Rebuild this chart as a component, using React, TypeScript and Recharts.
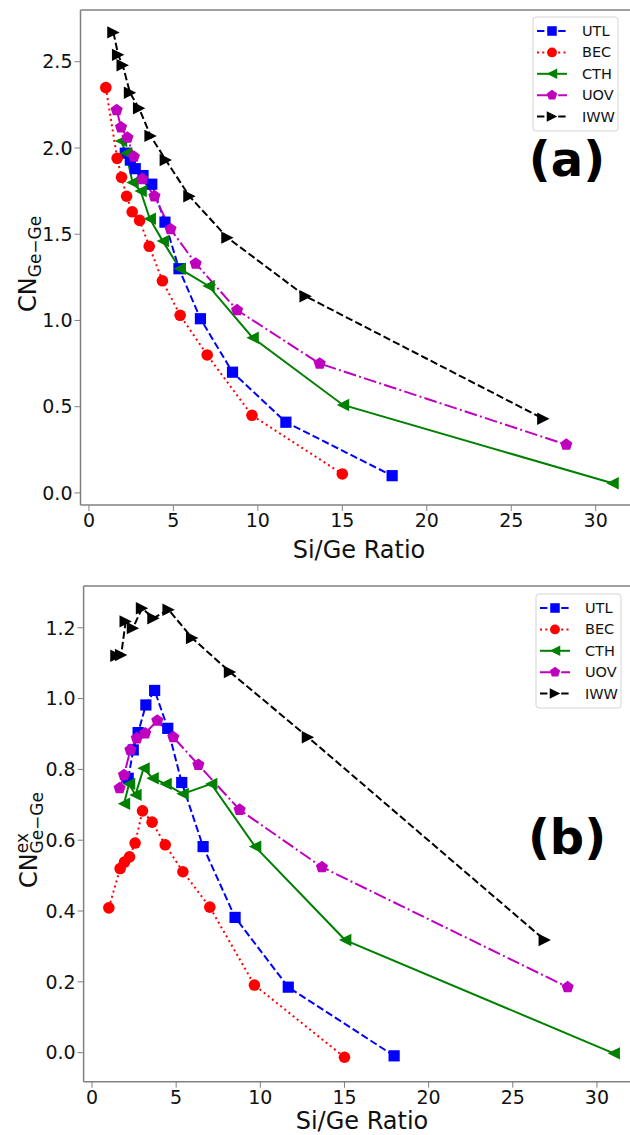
import React from 'react';
import { LineChart, Line, XAxis, YAxis, ReferenceLine } from 'recharts';

// Si/Ge ratio (x) per framework, and the two coordination-number panels
const UTL_X = [2.15, 2.45, 2.74, 3.2, 3.72, 4.5, 5.33, 6.6, 8.5, 11.66, 17.95];
const UTL_CN = [1.97, 1.93, 1.88, 1.84, 1.79, 1.57, 1.3, 1.01, 0.7, 0.41, 0.1];
const UTL_EX = [0.775, 0.855, 0.904, 0.982, 1.023, 0.916, 0.763, 0.582, 0.382, 0.185, -0.009];

const BEC_X = [1.0, 1.67, 1.93, 2.23, 2.56, 3.0, 3.57, 4.35, 5.4, 7.0, 9.65, 15.0];
const BEC_CN = [2.35, 1.94, 1.83, 1.72, 1.63, 1.58, 1.43, 1.23, 1.03, 0.8, 0.45, 0.11];
const BEC_EX = [0.409, 0.52, 0.538, 0.553, 0.592, 0.683, 0.651, 0.587, 0.511, 0.411, 0.191, -0.013];

const CTH_X = [1.9, 2.2, 2.58, 3.06, 3.6, 4.37, 5.38, 7.08, 9.69, 15.04, 31.0];
const CTH_CN = [2.04, 1.97, 1.8, 1.75, 1.59, 1.46, 1.3, 1.2, 0.9, 0.51, 0.056];
const CTH_EX = [0.703, 0.759, 0.728, 0.803, 0.775, 0.759, 0.731, 0.759, 0.582, 0.318, -0.002];

const UOV_X = [1.64, 1.9, 2.28, 2.66, 3.16, 3.88, 4.83, 6.32, 8.77, 13.66, 28.26];
const UOV_CN = [2.22, 2.12, 2.06, 1.95, 1.82, 1.72, 1.53, 1.33, 1.06, 0.75, 0.28];
const UOV_EX = [0.747, 0.784, 0.855, 0.888, 0.902, 0.938, 0.891, 0.813, 0.686, 0.524, 0.185];

const IWW_X = [1.45, 1.73, 2.0, 2.43, 2.97, 3.65, 4.55, 5.95, 8.2, 12.83, 26.9];
const IWW_CN = [2.67, 2.54, 2.48, 2.32, 2.23, 2.07, 1.93, 1.72, 1.48, 1.14, 0.43];
const IWW_EX = [1.121, 1.123, 1.218, 1.199, 1.255, 1.227, 1.251, 1.171, 1.075, 0.891, 0.318];

const X_TICKS = [0, 5, 10, 15, 20, 25, 30];
const CN_TICKS = [0, 0.5, 1.0, 1.5, 2.0, 2.5];
const EX_TICKS = [0, 0.2, 0.4, 0.6, 0.8, 1.0, 1.2];

const X_DOMAIN: [number, number] = [-0.5, 32.6];
const FONT = '"DejaVu Sans", sans-serif';
const AXIS = '#808080';

type Kind = 'square' | 'circle' | 'triLeft' | 'triRight' | 'pentagon';

const SERIES = [
  { name: 'UTL', x: UTL_X, cn: UTL_CN, ex: UTL_EX, color: '#0000ff', dash: '7.4 3.2', kind: 'square' as Kind },
  { name: 'BEC', x: BEC_X, cn: BEC_CN, ex: BEC_EX, color: '#ff0000', dash: '2 3.3', kind: 'circle' as Kind },
  { name: 'CTH', x: CTH_X, cn: CTH_CN, ex: CTH_EX, color: '#008000', dash: undefined, kind: 'triLeft' as Kind },
  { name: 'UOV', x: UOV_X, cn: UOV_CN, ex: UOV_EX, color: '#bf00bf', dash: '12.8 3.2 2 3.2', kind: 'pentagon' as Kind },
  { name: 'IWW', x: IWW_X, cn: IWW_CN, ex: IWW_EX, color: '#000000', dash: '7.4 3.2', kind: 'triRight' as Kind },
];

const Marker = ({ cx, cy, kind, color, size = 1 }: { cx?: number; cy?: number; kind: Kind; color: string; size?: number }) => {
  if (cx == null || cy == null) return null;
  const h = 6.2 * size;
  switch (kind) {
    case 'square':
      return <rect x={cx - 5.6 * size} y={cy - 5.6 * size} width={11.2 * size} height={11.2 * size} fill={color} />;
    case 'circle':
      return <circle cx={cx} cy={cy} r={5.8 * size} fill={color} />;
    case 'triRight':
      return <polygon points={`${cx + h},${cy} ${cx - h},${cy - h} ${cx - h},${cy + h}`} fill={color} />;
    case 'triLeft':
      return <polygon points={`${cx - h},${cy} ${cx + h},${cy - h} ${cx + h},${cy + h}`} fill={color} />;
    case 'pentagon': {
      const r = 6.4 * size;
      const pts = [0, 1, 2, 3, 4]
        .map((k) => {
          const a = (-90 + 72 * k) * (Math.PI / 180);
          return `${cx + r * Math.cos(a)},${cy + r * Math.sin(a)}`;
        })
        .join(' ');
      return <polygon points={pts} fill={color} />;
    }
  }
  return null;
};

interface PanelProps {
  field: 'cn' | 'ex';
  yDomain: [number, number];
  yTicks: number[];
  yWidth: number;
  rightMargin: number;
  plotHeight: number;
}

const Panel = ({ field, yDomain, yTicks, yWidth, rightMargin, plotHeight }: PanelProps) => (
  <LineChart width={660} height={10 + plotHeight + 60} margin={{ top: 10, right: rightMargin, left: 0, bottom: 0 }}>
    <XAxis
      dataKey="x"
      type="number"
      domain={X_DOMAIN}
      allowDataOverflow
      ticks={X_TICKS}
      height={60}
      tickSize={6}
      tickMargin={3}
      axisLine={{ stroke: AXIS, strokeWidth: 1.5 }}
      tickLine={{ stroke: AXIS }}
      tick={{ fill: '#111', fontSize: 19, fontFamily: FONT }}
    />
    <YAxis
      type="number"
      domain={yDomain}
      allowDataOverflow
      ticks={yTicks}
      width={yWidth}
      tickSize={6}
      tickMargin={2}
      tickFormatter={(v: number) => v.toFixed(1)}
      axisLine={{ stroke: AXIS, strokeWidth: 1.5 }}
      tickLine={{ stroke: AXIS }}
      tick={{ fill: '#111', fontSize: 19, fontFamily: FONT }}
    />
    {/* top spine of the frame */}
    <ReferenceLine y={yDomain[1]} stroke={AXIS} strokeWidth={1.5} />
    {SERIES.map((s) => (
      <Line
        key={s.name}
        data={s.x.map((x, i) => ({ x, y: s[field][i] }))}
        dataKey="y"
        type="linear"
        stroke={s.color}
        strokeWidth={2}
        strokeDasharray={s.dash}
        dot={(p: any) => <Marker key={`${s.name}-${p.index}`} cx={p.cx} cy={p.cy} kind={s.kind} color={s.color} />}
        activeDot={false}
        isAnimationActive={false}
      />
    ))}
  </LineChart>
);

const LegendBox = ({ x, y }: { x: number; y: number }) => (
  <g>
    <rect x={x} y={y} width={85} height={114} rx={3} fill="#fff" fillOpacity={0.8} stroke="#d5d5d5" strokeWidth={1} />
    {SERIES.map((s, i) => {
      const cy = y + 14 + i * 21.4;
      return (
        <g key={s.name}>
          <line x1={x + 4} x2={x + 34} y1={cy} y2={cy} stroke={s.color} strokeWidth={2} strokeDasharray={s.dash} />
          <Marker cx={x + 19} cy={cy} kind={s.kind} color={s.color} size={0.85} />
          <text x={x + 49} y={cy + 5} fontSize={14.5} fontFamily={FONT} fill="#111">
            {s.name}
          </text>
        </g>
      );
    })}
  </g>
);

export default function App() {
  return (
    <div style={{ position: 'absolute', left: 0, top: 0, width: 630, height: 1135, overflow: 'hidden', background: '#fff' }}>
      <div style={{ position: 'absolute', left: 0, top: 0 }}>
        <Panel field="cn" yDomain={[-0.07, 2.8]} yTicks={CN_TICKS} yWidth={80.5} rightMargin={20.4} plotHeight={495} />
      </div>
      <div style={{ position: 'absolute', left: 0, top: 576 }}>
        <Panel field="ex" yDomain={[-0.082, 1.318]} yTicks={EX_TICKS} yWidth={83.6} rightMargin={19.3} plotHeight={495.7} />
      </div>
      <svg width={630} height={1135} style={{ position: 'absolute', left: 0, top: 0, pointerEvents: 'none' }}>
        <LegendBox x={533} y={17} />
        <LegendBox x={536} y={594} />
        <text x={567} y={176} textAnchor="middle" fontSize={48} fontWeight="bold" fontFamily={FONT} fill="#000">
          (a)
        </text>
        <text x={567} y={854} textAnchor="middle" fontSize={48} fontWeight="bold" fontFamily={FONT} fill="#000">
          (b)
        </text>
        <text x={359} y={558} textAnchor="middle" fontSize={24} fontFamily={FONT} fill="#111">
          Si/Ge Ratio
        </text>
        <text x={362} y={1129} textAnchor="middle" fontSize={24} fontFamily={FONT} fill="#111">
          Si/Ge Ratio
        </text>
        <text transform="translate(36,262) rotate(-90)" x={-50} y={0} fontSize={24} fontFamily={FONT} fill="#111">
          CN
          <tspan fontSize={17} dy={5}>Ge−Ge</tspan>
        </text>
        <text transform="translate(37,838) rotate(-90)" x={-50} y={0} fontSize={24} fontFamily={FONT} fill="#111">
          CN
          <tspan fontSize={17} dy={-9}>ex</tspan>
          <tspan fontSize={17} dx={-20.5} dy={15}>Ge−Ge</tspan>
        </text>
      </svg>
    </div>
  );
}
